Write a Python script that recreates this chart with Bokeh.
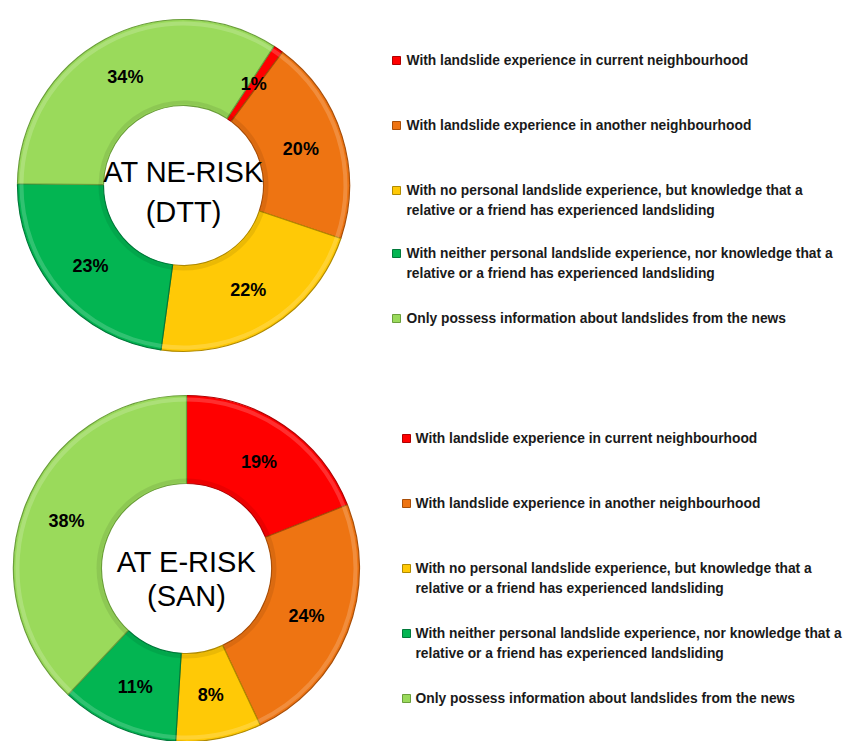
import numpy as np
from bokeh.plotting import figure
from bokeh.models import Range1d, ColumnDataSource
from bokeh.core.properties import value
from bokeh.embed import file_html
from bokeh.resources import INLINE

# ---- data ----
categories = [
    "With landslide experience in current neighbourhood",
    "With landslide experience in another neighbourhood",
    "With no personal landslide experience, but knowledge that a|relative or a friend has experienced landsliding",
    "With neither personal landslide experience, nor  knowledge that a|relative or a friend has experienced landsliding",
    "Only possess information  about landslides from the news",
]
colors = ["#FF0000", "#EE7412", "#FFC906", "#03B552", "#9ADA5B"]
edge_colors = ["#B00000", "#A84E08", "#B08A00", "#01793A", "#6B9E3B"]

ne_risk_pct = [1, 20, 22, 23, 34]     # AT NE-RISK (DTT)
e_risk_pct = [19, 24, 8, 11, 38]      # AT E-RISK (SAN)

titles = [("AT NE-RISK", "(DTT)"), ("AT E-RISK", "(SAN)")]

W, H = 847, 741

p = figure(width=W, height=H, output_backend="svg", toolbar_location=None,
           x_range=Range1d(0, W), y_range=Range1d(0, H), min_border=0,
           match_aspect=False)
p.axis.visible = False
p.grid.visible = False
p.outline_line_color = None
p.background_fill_color = "white"
p.border_fill_color = "white"

LABEL_FONT = value("Liberation Sans")


def sy(y):
    """screen y (from top) -> data y"""
    return H - y


def donut(values, cx, cy, r_out, r_in, start_deg, title, title_ys):
    vals = np.array(values, dtype=float)
    frac = vals / vals.sum()
    cum = np.concatenate([[0], np.cumsum(frac)]) * 360.0 + start_deg
    a0 = cum[:-1]   # clockwise from 12 o'clock
    a1 = cum[1:]
    start = np.radians(90 - a1)
    end = np.radians(90 - a0)
    src = ColumnDataSource(dict(start=start, end=end, color=colors,
                                edge=edge_colors))
    cyd = sy(cy)
    p.annular_wedge(x=cx, y=cyd, inner_radius=r_in, outer_radius=r_out,
                    start_angle="start", end_angle="end", fill_color="color",
                    line_color="edge", line_width=1.2, source=src)
    # soft rim highlight for a bevelled look
    p.annular_wedge(x=cx, y=cyd, inner_radius=r_out - 6, outer_radius=r_out - 2,
                    start_angle="start", end_angle="end", fill_color="white",
                    fill_alpha=0.18, line_color=None, source=src)
    p.annular_wedge(x=cx, y=cyd, inner_radius=r_in + 1, outer_radius=r_in + 5,
                    start_angle="start", end_angle="end", fill_color="black",
                    fill_alpha=0.08, line_color=None, source=src)
    # percentage labels at mid-ring
    mid = np.radians((a0 + a1) / 2)
    rm = (r_out + r_in) / 2
    lx = cx + rm * np.sin(mid)
    ly = cyd + rm * np.cos(mid)
    labels = [f"{int(v)}%" for v in values]
    p.text(x=lx, y=ly, text=labels, text_font=LABEL_FONT,
           text_font_style="bold", text_font_size="18px", text_color="black",
           text_align="center", text_baseline="middle")
    # centre title
    for line, ty in zip(title, title_ys):
        p.text(x=[cx], y=[sy(ty)], text=[line], text_font=LABEL_FONT,
               text_font_size="29px", text_color="black",
               text_align="center", text_baseline="middle")


def legend(mx, tx, ys):
    for i, (lab, yy) in enumerate(zip(categories, ys)):
        lines = lab.split("|")
        p.rect(x=[mx], y=[sy(yy)], width=8, height=8, fill_color=colors[i],
               line_color=edge_colors[i], line_width=1)
        for j, ln in enumerate(lines):
            p.text(x=[tx], y=[sy(yy + 20 * j)], text=[ln], text_font=LABEL_FONT,
                   text_font_style="bold", text_font_size="13.8px",
                   text_color="#1a1a1a", text_align="left",
                   text_baseline="middle")


donut(ne_risk_pct, 183, 185, 166, 80, 33, titles[0], (171, 211))
donut(e_risk_pct, 186, 568, 173, 85, 0, titles[1], (561, 595))

legend(396, 406, [60, 125, 190, 253, 318])
legend(406, 415, [438, 503, 568, 633, 698])

open("out.html", "w").write(file_html(p, INLINE))
